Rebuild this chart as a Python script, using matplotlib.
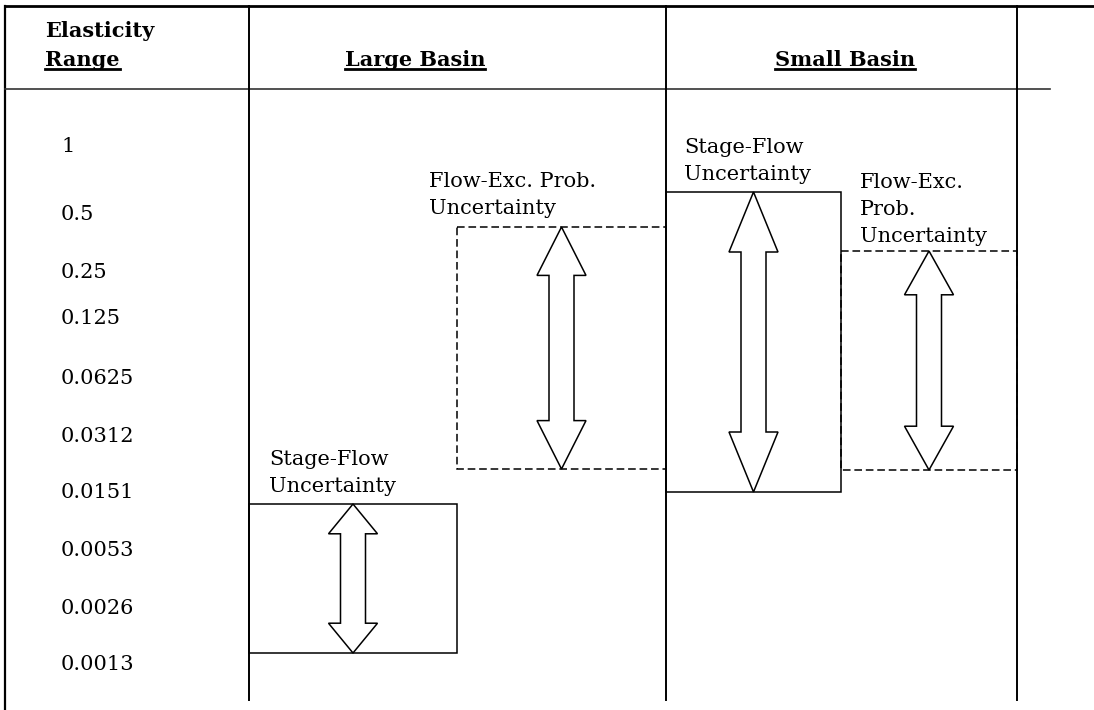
import matplotlib
matplotlib.use("Agg")
import matplotlib.pyplot as plt
from matplotlib.patches import Polygon, Rectangle

# ---- data ----
elasticity_labels = ['1', '0.5', '0.25', '0.125', '0.0625', '0.0312',
                     '0.0151', '0.0053', '0.0026', '0.0013']
column_titles = ['Large Basin', 'Small Basin']
box_labels = ['Stage-Flow\nUncertainty', 'Flow-Exc. Prob.\nUncertainty',
              'Stage-Flow\nUncertainty', 'Flow-Exc.\nProb.\nUncertainty']
box_dashed = [False, True, False, True]
# vertical extents of each uncertainty band (picture units, top -> bottom)
band_top = [504, 227, 192, 251]
band_bottom = [653, 469, 492, 470]

# ---- layout ----
W, H = 1094, 710
label_y = [146, 214, 272, 319, 378, 436, 493, 550, 609, 665]
box_left = [249, 457, 666, 841]
box_right = [457, 666, 841, 1017]
# (left x, baseline of last line)
box_text_xy = [(269, 492), (429, 214), (684, 180), (860, 242)]
col_lines = [249, 666, 1017]
title_cx = [415, 845]

fig = plt.figure(figsize=(W / 100, H / 100), dpi=100)
ax = fig.add_axes([0, 0, 1, 1])
ax.set_xlim(0, W)
ax.set_ylim(H, 0)
ax.axis('off')

font = ['DejaVu Serif']
fs = 15

# frame
ax.plot([5, W], [6, 6], color='black', lw=2.0)
ax.plot([5, 5], [6, H], color='black', lw=1.6)
ax.plot([5, 1050], [89, 89], color='#333333', lw=1.2)
for x in col_lines:
    ax.plot([x, x], [6, 700], color='black', lw=1.4)

# header texts
underline_texts = []
ax.text(45, 37, 'Elasticity', fontsize=fs, fontweight='bold', family=font,
        ha='left', va='baseline')
t = ax.text(45, 66, 'Range', fontsize=fs, fontweight='bold', family=font,
            ha='left', va='baseline')
underline_texts.append(t)
for cx, title in zip(title_cx, column_titles):
    t = ax.text(cx, 66, title, fontsize=fs, fontweight='bold', family=font,
                ha='center', va='baseline')
    underline_texts.append(t)

# elasticity labels
for y, lab in zip(label_y, elasticity_labels):
    ax.text(61, y, lab, fontsize=fs, family=font, ha='left', va='center')

# boxes and arrows
for i in range(len(band_top)):
    x0, x1 = box_left[i], box_right[i]
    y0, y1 = band_top[i], band_bottom[i]
    ls = (0, (5, 2.5)) if box_dashed[i] else '-'
    ax.add_patch(Rectangle((x0, y0), x1 - x0, y1 - y0, fill=False,
                           edgecolor='black', lw=1.1, linestyle=ls))
    xc = (x0 + x1) / 2
    L = y1 - y0
    h = 0.2 * L
    hw, sw = 24.5, 12.5
    pts = [(xc, y0), (xc + hw, y0 + h), (xc + sw, y0 + h), (xc + sw, y1 - h),
           (xc + hw, y1 - h), (xc, y1), (xc - hw, y1 - h), (xc - sw, y1 - h),
           (xc - sw, y0 + h), (xc - hw, y0 + h)]
    ax.add_patch(Polygon(pts, closed=True, facecolor='white',
                         edgecolor='black', lw=1.1))
    tx, ty = box_text_xy[i]
    ax.text(tx, ty, box_labels[i], fontsize=fs, family=font, ha='left',
            va='baseline', linespacing=1.55)

# underlines
fig.canvas.draw()
r = fig.canvas.get_renderer()
inv = ax.transData.inverted()
for t in underline_texts:
    bb = t.get_window_extent(renderer=r)
    (xa, _), (xb, _) = inv.transform([(bb.x0, bb.y0), (bb.x1, bb.y0)])
    ax.plot([xa, xb], [69, 69], color='black', lw=2.0)

fig.savefig('out.png', dpi=100)
